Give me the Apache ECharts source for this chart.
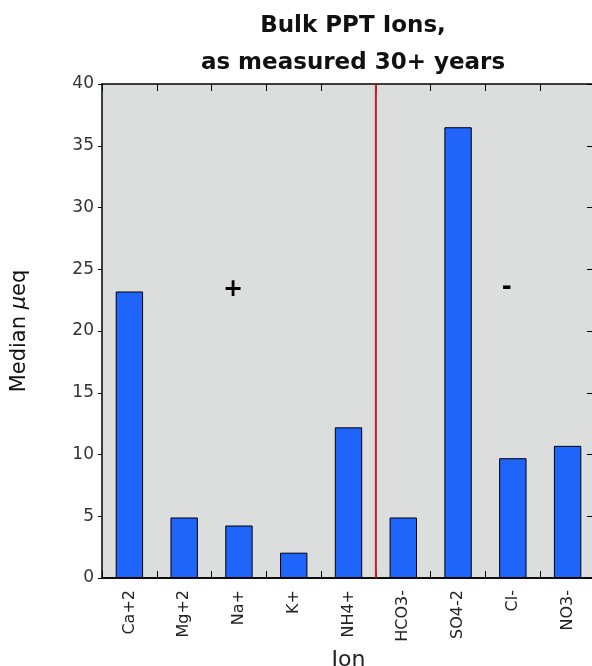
<!DOCTYPE html>
<html>
<head>
<meta charset="utf-8">
<script src="https://cdn.jsdelivr.net/npm/echarts@6/dist/echarts.min.js"></script>
<style>
  html, body { margin: 0; padding: 0; background: #fff; }
  #chart { width: 592px; height: 666px; }
</style>
</head>
<body>
<div id="chart"></div>
<script>
const ions = ['Ca+2', 'Mg+2', 'Na+', 'K+', 'NH4+', 'HCO3-', 'SO4-2', 'Cl-', 'NO3-']
const medians = [23.2, 4.9, 4.25, 2.05, 12.2, 4.9, 36.5, 9.7, 10.7]
// boundary between cations and anions (in category units)
const splitLine = [[5, 0], [5, 40]]
const chargeSigns = [
  { ion: 'Na+', value: 23.3, text: '+' },
  { ion: 'Cl-', value: 23.5, text: '-' }
]

const chart = echarts.init(document.getElementById('chart'))
const font = 'DejaVu Sans'
const textColor = '#222'

// frame axis: value scale over the category slots, used for inner ticks
function frameX(position) {
  return {
    type: 'value',
    position: position,
    min: 0,
    max: 9,
    interval: 1,
    axisLine: { show: true, onZero: false, lineStyle: { color: '#000', width: 1.5 } },
    axisTick: { show: true, inside: true, length: 7, lineStyle: { color: '#000' } },
    axisLabel: { show: false },
    splitLine: { show: false }
  }
}

const option = {
  backgroundColor: '#fff',
  animation: false,
  title: {
    text: 'Bulk PPT Ions,\nas measured 30+ years',
    left: 348,
    top: 3,
    textAlign: 'center',
    textStyle: {
      fontFamily: font,
      fontSize: 23,
      fontWeight: 'bold',
      color: '#111',
      lineHeight: 37
    }
  },
  grid: {
    left: 102,
    top: 84,
    right: -3,
    bottom: 88,
    outerBoundsMode: 'none',
    show: true,
    backgroundColor: '#dcdddd',
    borderWidth: 0
  },
  xAxis: [
    {
      type: 'category',
      data: ions,
      position: 'bottom',
      name: 'Ion',
      nameLocation: 'middle',
      nameGap: 65,
      nameTextStyle: { fontFamily: font, fontSize: 22, color: textColor },
      axisLine: { onZero: false, lineStyle: { color: '#000', width: 1.5 } },
      axisTick: { show: false },
      axisLabel: { rotate: 90, margin: 12, fontFamily: font, fontSize: 16, color: textColor },
      splitLine: { show: false }
    },
    frameX('top'),
    frameX('bottom')
  ],
  yAxis: [
    {
      type: 'value',
      min: 0,
      max: 40,
      interval: 5,
      position: 'left',
      name: 'Median {i|μ}eq',
      nameLocation: 'middle',
      nameGap: 72,
      nameRotate: 90,
      nameTextStyle: {
        fontFamily: font,
        fontSize: 21,
        color: '#111',
        rich: { i: { fontFamily: font, fontSize: 21, fontStyle: 'italic', color: '#111' } }
      },
      axisLine: { show: true, onZero: false, lineStyle: { color: '#000', width: 1.5 } },
      axisTick: { show: true, length: 4, lineStyle: { color: '#000' } },
      axisLabel: { margin: 8, fontFamily: font, fontSize: 17, color: '#333' },
      splitLine: { show: false }
    },
    {
      type: 'value',
      min: 0,
      max: 40,
      interval: 5,
      position: 'right',
      axisLine: { show: true, onZero: false, lineStyle: { color: '#000', width: 1.5 } },
      axisTick: { show: true, inside: true, length: 8, lineStyle: { color: '#000' } },
      axisLabel: { show: false },
      splitLine: { show: false }
    }
  ],
  series: [
    {
      type: 'bar',
      data: medians,
      xAxisIndex: 0,
      yAxisIndex: 0,
      barWidth: '50%',
      itemStyle: { color: '#1f64fb', borderColor: '#000', borderWidth: 1 },
      markPoint: {
        symbol: 'circle',
        symbolSize: 1,
        itemStyle: { color: 'rgba(0,0,0,0)' },
        label: {
          show: true,
          position: 'inside',
          fontFamily: font,
          fontSize: 24,
          fontWeight: 'bold',
          color: '#000',
          offset: [-6, 0],
          formatter: p => p.name
        },
        data: chargeSigns.map(c => ({ name: c.text, coord: [c.ion, c.value] }))
      }
    },
    {
      type: 'line',
      data: splitLine,
      xAxisIndex: 1,
      yAxisIndex: 0,
      symbol: 'none',
      lineStyle: { color: '#c42020', width: 2 },
      z: 3
    }
  ]
}

chart.setOption(option)
</script>
</body>
</html>
